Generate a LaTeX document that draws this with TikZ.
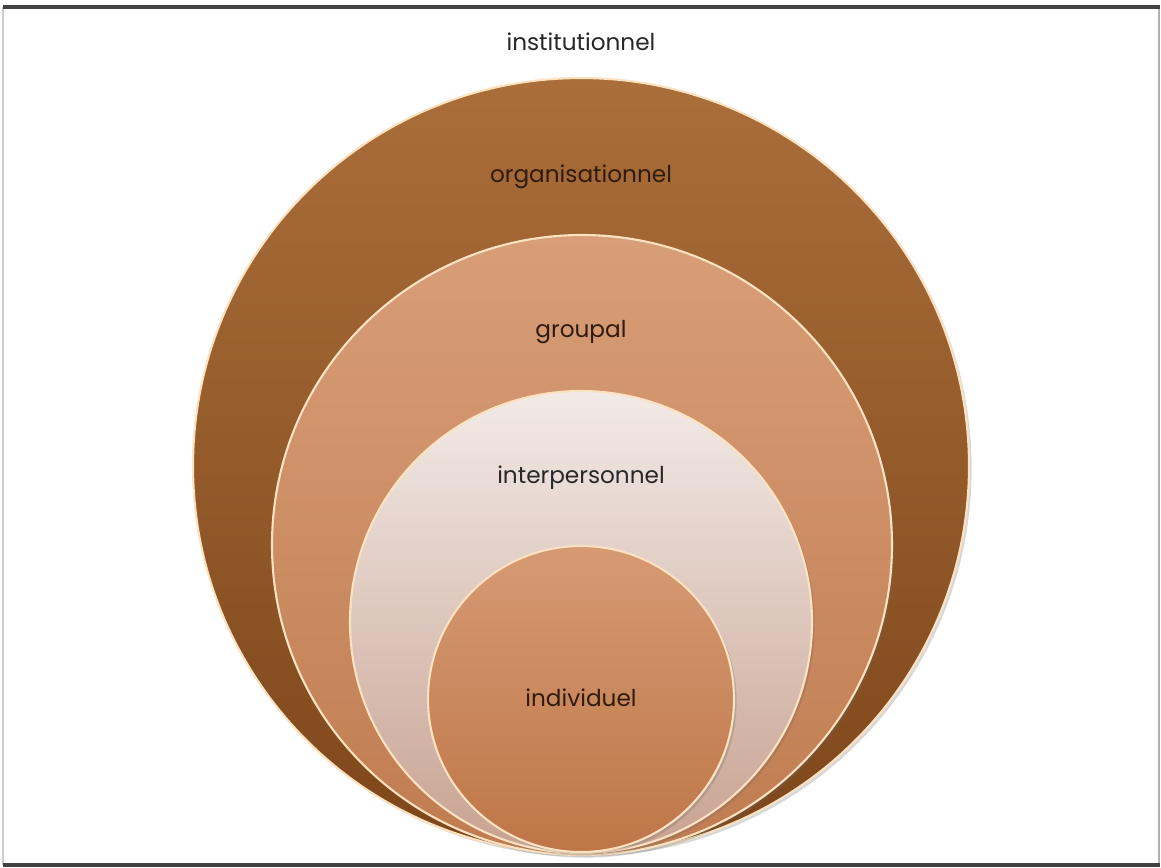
\documentclass[tikz,border=0pt]{standalone}
\usepackage{fontspec}
\setmainfont{Poppins}
\usetikzlibrary{shadows}
\definecolor{outerTop}{RGB}{170,110,58}
\definecolor{outerBot}{RGB}{125,70,26}
\definecolor{grpTop}{RGB}{216,158,120}
\definecolor{grpBot}{RGB}{192,124,80}
\definecolor{intTop}{RGB}{242,234,231}
\definecolor{intBot}{RGB}{200,162,145}
\definecolor{indTop}{RGB}{214,154,114}
\definecolor{indBot}{RGB}{190,118,72}
\definecolor{rim}{RGB}{252,226,192}
\definecolor{txtBrown}{RGB}{48,28,12}
\definecolor{txtGray}{RGB}{40,40,40}
\definecolor{frameDark}{RGB}{65,65,65}
\definecolor{frameLight}{RGB}{205,205,205}
\tikzset{
  ring/.style={circle, draw=rim, line width=1.2pt, inner sep=0pt,
    drop shadow={shadow xshift=1.5pt, shadow yshift=-1.5pt, opacity=0.25, fill=black!60}},
  lbl/.style={font=\fontsize{13.2}{15}\selectfont, inner sep=0pt},
}
\begin{document}
\begin{tikzpicture}[x=0.02cm,y=-0.02cm]
\useasboundingbox (0,0) rectangle (1161,867);
\fill[white] (0,0) rectangle (1161,867);
% frame
\draw[frameLight, line width=1.2pt] (3,7) -- (3,865);
\draw[frameLight!85!black, line width=1.2pt] (1159,7) -- (1159,865);
\draw[frameDark, line width=1.8pt] (3,7) -- (1160,7);
\draw[frameDark, line width=1.8pt] (3,865) -- (1160,865);
% circles
\node[ring, minimum size=776*0.02cm, top color=outerTop, bottom color=outerBot] (inst) at (581,466) {};
\node[ring, minimum size=620*0.02cm, top color=grpTop, bottom color=grpBot] (grp) at (582,545) {};
\node[ring, minimum size=462*0.02cm, top color=intTop, bottom color=intBot] (inter) at (581,622) {};
\node[ring, minimum size=306*0.02cm, top color=indTop, bottom color=indBot] (indiv) at (581,699) {};
% labels
\node[lbl, text=txtGray] (t1) at (581,42) {institutionnel};
\node[lbl, text=txtBrown] (t2) at (581,177) {organisationnel};
\node[lbl, text=txtBrown] (t3) at (581,332) {groupal};
\node[lbl, text=txtGray] (t4) at (581,478) {interpersonnel};
\node[lbl, text=txtBrown] (t5) at (581,698) {individuel};
\end{tikzpicture}
\end{document}
